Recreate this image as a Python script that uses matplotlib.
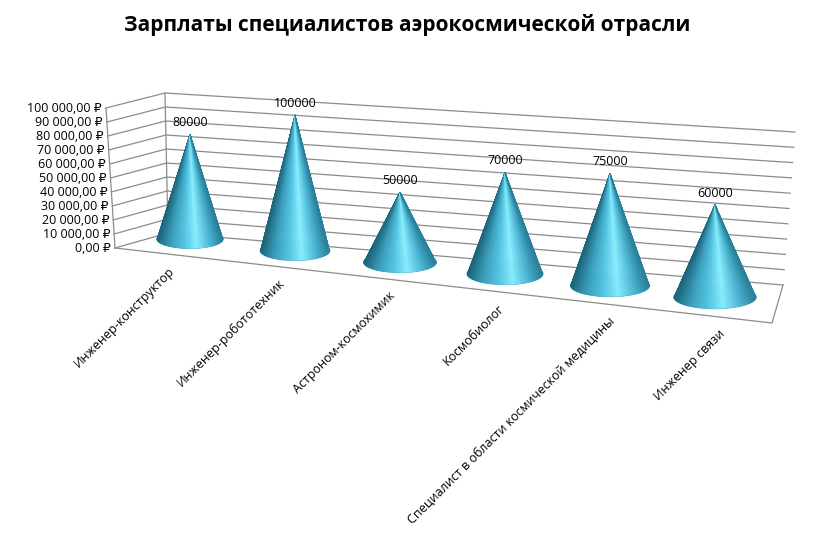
import numpy as np
import matplotlib
matplotlib.use("Agg")
import matplotlib.pyplot as plt
from matplotlib.colors import LinearSegmentedColormap
from matplotlib.patches import Polygon, Ellipse

categories = ["Инженер-конструктор", "Инженер-робототехник", "Астроном-космохимик",
              "Космобиолог", "Специалист в области космической медицины", "Инженер связи"]
values = [80000, 100000, 50000, 70000, 75000, 60000]
tick_values = list(range(0, 100001, 10000))
tick_labels = [f"{v:,.2f}".replace(",", " ").replace(".", ",") + " ₽" for v in tick_values]
title = "Зарплаты специалистов аэрокосмической отрасли"

FONT = ['Open Sans', 'DejaVu Sans']
fig = plt.figure(figsize=(8.14, 5.38), dpi=100)
ax = fig.add_axes([0, 0, 1, 1])
ax.set_xlim(0, 814); ax.set_ylim(538, 0); ax.axis('off')

def lerp(a, b, t):
    return (a[0] + (b[0] - a[0]) * t, a[1] + (b[1] - a[1]) * t)

vmax = 100000
FL0, FL1 = (115, 248), (106, 108)
BL0, BL1 = (168, 233), (165, 93)
BR0, BR1 = (783, 285), (795, 132)
FR = (772, 323)
gc = '#8c8c8c'
for k, v in enumerate(tick_values):
    t = v / vmax
    fl, bl, br = lerp(FL0, FL1, t), lerp(BL0, BL1, t), lerp(BR0, BR1, t)
    ax.plot([fl[0], bl[0], br[0]], [fl[1], bl[1], br[1]], color=gc, lw=0.9)
    ax.text(fl[0] - 4, fl[1], tick_labels[k], ha='right', va='center',
            fontsize=9, family=FONT)
ax.plot([FL0[0], FL1[0]], [FL0[1], FL1[1]], color=gc, lw=0.9)
ax.plot([BL0[0], BL1[0]], [BL0[1], BL1[1]], color=gc, lw=0.9)
ax.plot([FL0[0], FR[0], BR0[0]], [FL0[1], FR[1], BR0[1]], color=gc, lw=0.9)

cmap = LinearSegmentedColormap.from_list('c', ['#1d6479', '#3a9fbd', '#55c4e2', '#8aeeff', '#4fb9d6', '#2a809a'])
for i, v in enumerate(values):
    bx = 190 + 105 * i
    by = 239 + 11.6 * i
    a = 33 + 1.6 * i
    b = a * 0.28
    scale = 131 * (1 + 0.035 * i)
    apex = (bx, by - v / vmax * scale)
    th = np.linspace(np.pi, 0, 120)
    xs = bx + a * np.cos(th); ys = by + b * np.sin(th)
    ax.add_patch(Ellipse((bx, by), 2 * a, 2 * b, color='#3a9fbd', zorder=3))
    for k in range(len(th) - 1):
        u = (xs[k] - (bx - a)) / (2 * a)
        poly = Polygon([apex, (xs[k], ys[k]), (xs[k + 1], ys[k + 1])], closed=True,
                       facecolor=cmap(u), edgecolor=cmap(u), lw=0.4, zorder=4)
        ax.add_patch(poly)
    ax.text(apex[0], apex[1] - 5, str(v), ha='center', va='bottom', fontsize=9, family=FONT, zorder=5)
    lx = bx - 22 + 5 * i
    t = (lx - FL0[0]) / (FR[0] - FL0[0])
    ly = FL0[1] + (FR[1] - FL0[1]) * t
    ax.text(lx, ly + 10, categories[i], rotation=45, ha='right', va='top',
            rotation_mode='anchor', fontsize=9, family=FONT)

ax.text(407, 25, title, ha='center', va='center', fontsize=15, fontweight='bold', family=FONT)
fig.savefig('out.png', dpi=100)
